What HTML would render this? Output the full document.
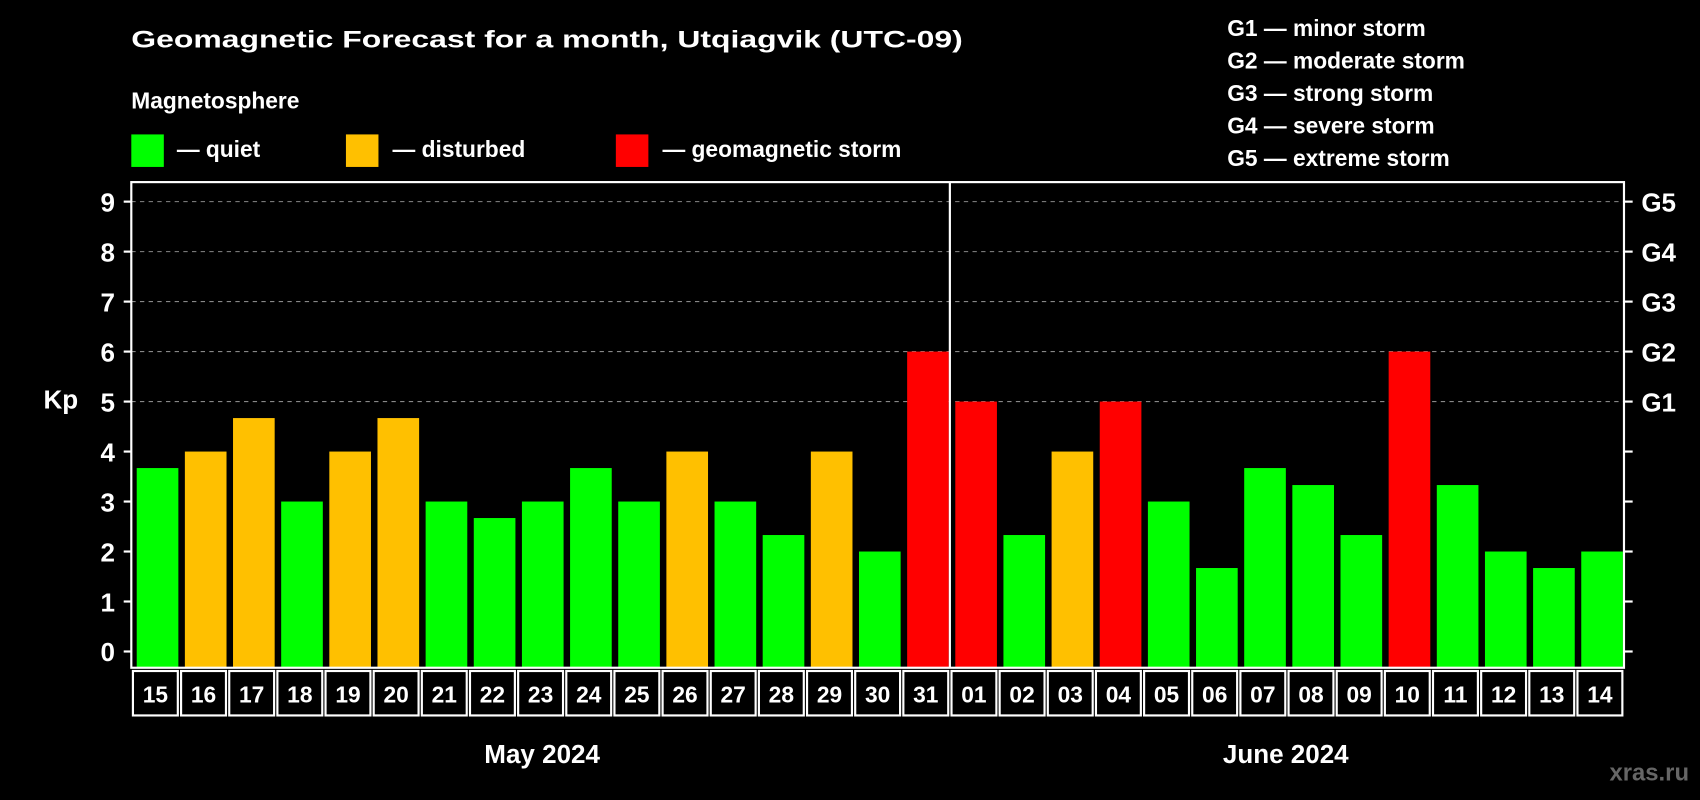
<!DOCTYPE html>
<html><head><meta charset="utf-8"><style>
html,body{margin:0;padding:0;background:#000;}
svg{display:block;font-family:"Liberation Sans",Arial,sans-serif;font-weight:bold;}
</style></head><body>
<svg id="chart" width="1700" height="800" viewBox="0 0 1568 738" xmlns="http://www.w3.org/2000/svg">
<rect width="1568" height="738" fill="#000"/>
<text x="121" y="44" fill="#fff" font-size="22" textLength="767" lengthAdjust="spacingAndGlyphs">Geomagnetic Forecast for a month, Utqiagvik (UTC-09)</text>
<text x="121" y="100" fill="#fff" font-size="21">Magnetosphere</text>
<g><rect x="121" y="124" width="30" height="30" fill="#00ff00"/><text x="163" y="145" fill="#fff" font-size="21">— quiet</text></g>
<g><rect x="319" y="124" width="30" height="30" fill="#ffc000"/><text x="362" y="145" fill="#fff" font-size="21">— disturbed</text></g>
<g><rect x="568" y="124" width="30" height="30" fill="#ff0000"/><text x="611" y="145" fill="#fff" font-size="21">— geomagnetic storm</text></g>
<g fill="#fff" font-size="21">
<text x="1132" y="33">G1 — minor storm</text>
<text x="1132" y="63">G2 — moderate storm</text>
<text x="1132" y="93">G3 — strong storm</text>
<text x="1132" y="123">G4 — severe storm</text>
<text x="1132" y="153">G5 — extreme storm</text>
</g>
<g id="grid"></g>
<g id="bars"></g>
<g id="axes"></g>
<text x="40" y="377" fill="#fff" font-size="24">Kp</text>
<text x="500" y="704" fill="#fff" font-size="24" text-anchor="middle">May 2024</text>
<text x="1186" y="704" fill="#fff" font-size="24" text-anchor="middle">June 2024</text>
<text x="1558" y="720" fill="#666" font-size="22" text-anchor="end">xras.ru</text>
</svg>
<script>
const days = ["15","16","17","18","19","20","21","22","23","24","25","26","27","28","29","30","31","01","02","03","04","05","06","07","08","09","10","11","12","13","14"];
const kpValues = [3.67,4,4.67,3,4,4.67,3,2.67,3,3.67,3,4,3,2.33,4,2,6,5,2.33,4,5,3,1.67,3.67,3.33,2.33,6,3.33,2,1.67,2];
const yTicks = [0,1,2,3,4,5,6,7,8,9];
const gLabels = ["G1","G2","G3","G4","G5"];
const NS="http://www.w3.org/2000/svg";
const L=121,R=1498,T=168,B=616;
const slot=(R-L)/days.length;
const y=v=>601-v*46.11;
const x=i=>L+i*slot;
function mk(tag,attrs,parent){const e=document.createElementNS(NS,tag);for(const k in attrs)e.setAttribute(k,attrs[k]);parent.appendChild(e);return e;}
const grid=document.getElementById('grid'),bars=document.getElementById('bars'),axes=document.getElementById('axes');
for(let v=5;v<=9;v++){
  const l=mk('line',{x1:L,x2:R,y1:y(v),y2:y(v),stroke:'#888','stroke-dasharray':'4 4','stroke-width':1},grid);
  
  
}
kpValues.forEach((v,i)=>{
  const c=v>=5?'#ff0000':(v>=4?'#ffc000':'#00ff00');
  const r=mk('rect',{x:x(i)+5,y:y(v),width:slot-6,height:B-y(v),fill:c},bars);
  
  
  const b=mk('rect',{x:x(i)+1.5,y:B+3,width:slot-3,height:41,fill:'none',stroke:'#fff','stroke-width':2},axes);
  
  
  const t=mk('text',{x:x(i)+slot/2,y:B+32,fill:'#fff','font-size':21,'text-anchor':'middle'},axes);
  t.textContent=days[i];
  
  
});
const frame=mk('rect',{x:L,y:T,width:R-L,height:B-T,fill:'none',stroke:'#fff','stroke-width':2},axes);


const div=mk('line',{x1:x(17),x2:x(17),y1:T,y2:B,stroke:'#fff','stroke-width':2},axes);


yTicks.forEach(v=>{
  mk('line',{x1:L-7,x2:L,y1:y(v),y2:y(v),stroke:'#fff','stroke-width':2},axes);
  mk('line',{x1:R,x2:R+8,y1:y(v),y2:y(v),stroke:'#fff','stroke-width':2},axes);
  const t=mk('text',{x:106,y:y(v)+9,fill:'#fff','font-size':24,'text-anchor':'end'},axes);
  t.textContent=v;
  
  
});
gLabels.forEach((g,i)=>{
  const t=mk('text',{x:1514,y:y(5+i)+9,fill:'#fff','font-size':24},axes);
  t.textContent=g;
  
  
});
</script>
</body></html>
